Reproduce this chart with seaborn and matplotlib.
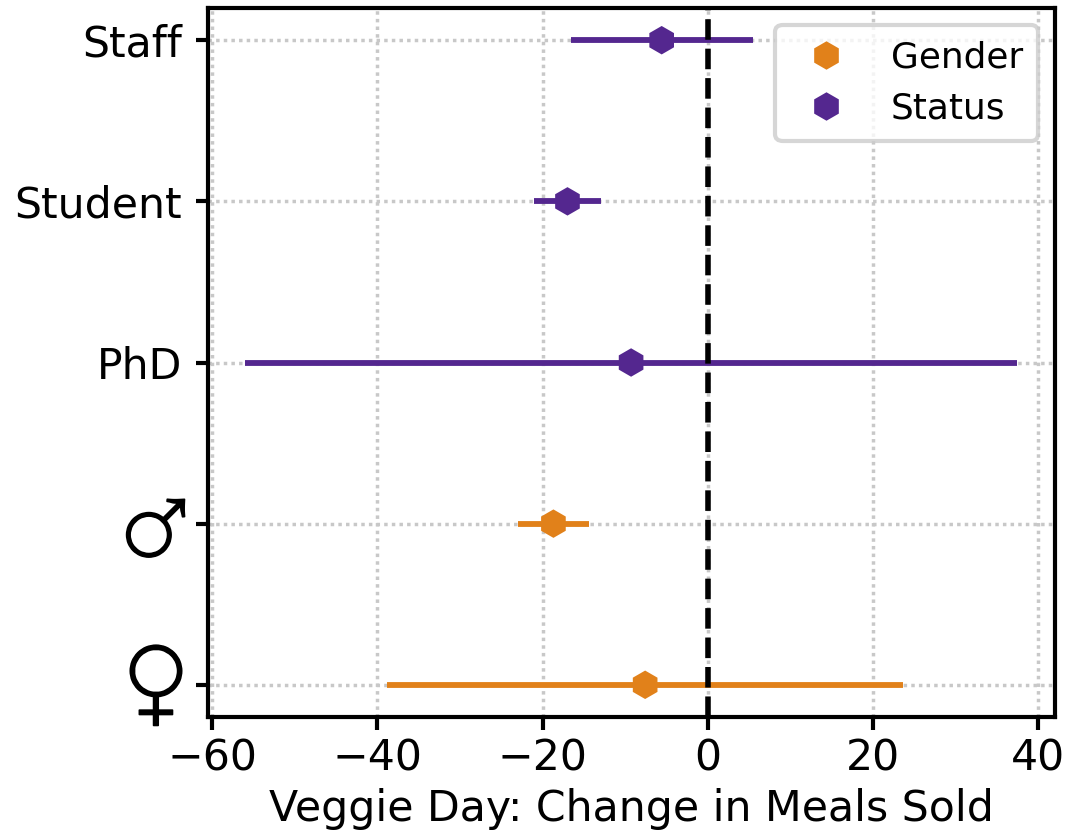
import numpy as np
import pandas as pd
import seaborn as sns
import matplotlib.pyplot as plt
import matplotlib.patheffects as pe
from matplotlib.transforms import ScaledTranslation

# values
labels = ["\u2640", "\u2642", "PhD", "Student", "Staff"]
groups = ["Gender", "Gender", "Status", "Status", "Status"]
effect = [-7.6, -18.7, -9.3, -17.0, -5.6]
ci_low = [-38.9, -23.0, -56.0, -21.0, -16.6]
ci_high = [23.6, -14.4, 37.4, -12.9, 5.4]

colors = {"Gender": "#e1811a", "Status": "#54278f"}

df = pd.DataFrame({"label": labels, "group": groups, "effect": effect,
                   "low": ci_low, "high": ci_high})
df["y"] = np.arange(len(df))

sns.set_style("ticks", {"axes.edgecolor": "black", "text.color": "black",
                        "axes.labelcolor": "black", "xtick.color": "black",
                        "ytick.color": "black"})
plt.rcParams['font.family'] = ['DejaVu Sans']

fig, ax = plt.subplots(figsize=(10.69, 8.40), dpi=100)
fig.subplots_adjust(left=0.1946, right=0.9869, top=0.9905, bottom=0.1464)

# confidence intervals
for _, row in df.iterrows():
    ax.plot([row["low"], row["high"]], [row["y"], row["y"]],
            color=colors[row["group"]], lw=4.2, solid_capstyle="butt", zorder=3)

sns.scatterplot(data=df, x="effect", y="y", hue="group", palette=colors,
                marker="h", s=420, linewidth=0, ax=ax, zorder=4)

ax.axvline(0, color="black", linestyle="dashed", lw=4, zorder=5)

ax.grid(True, color="#c8c8c8", linestyle=(0, (1, 1.2)), lw=2.5)
ax.set_axisbelow(True)
ax.set_xlim(-60.5, 42.0)
ax.set_ylim(-0.2, 4.2)
ax.set_xticks([-60, -40, -20, 0, 20, 40])
ax.set_yticks(df["y"])
ax.set_yticklabels(labels)
ax.tick_params(axis="x", labelsize=30.7, width=3, length=9, pad=6)
ax.tick_params(axis="y", labelsize=30.7, width=3, length=9, pad=9.5)
# gender symbols are drawn much bigger than the other labels, nudged and thickened
sym = ax.get_yticklabels()
sym[0].set_fontsize(60)
sym[1].set_fontsize(52)
nudge = [(0.14, 0.11), (0.08, 0.02)]
for t, (dx, dy) in zip(sym[:2], nudge):
    t.set_family(["Andika", "DejaVu Sans"])
    t.set_path_effects([pe.withStroke(linewidth=1.2, foreground="black")])
    t.set_transform(t.get_transform() + ScaledTranslation(dx, dy, fig.dpi_scale_trans))

for s in ax.spines.values():
    s.set_linewidth(3)
    s.set_visible(True)

ax.set_xlabel("Veggie Day: Change in Meals Sold", fontsize=30.7, labelpad=6)
ax.set_ylabel("")

leg = ax.legend(loc="upper right", fontsize=25.8, frameon=True,
                borderpad=0.42, labelspacing=0.5, handletextpad=0.8,
                bbox_to_anchor=(0.98, 0.976), borderaxespad=0)
leg.get_frame().set_linewidth(3)
leg.get_frame().set_edgecolor("#cccccc")

fig.savefig("out.png", dpi=100)
